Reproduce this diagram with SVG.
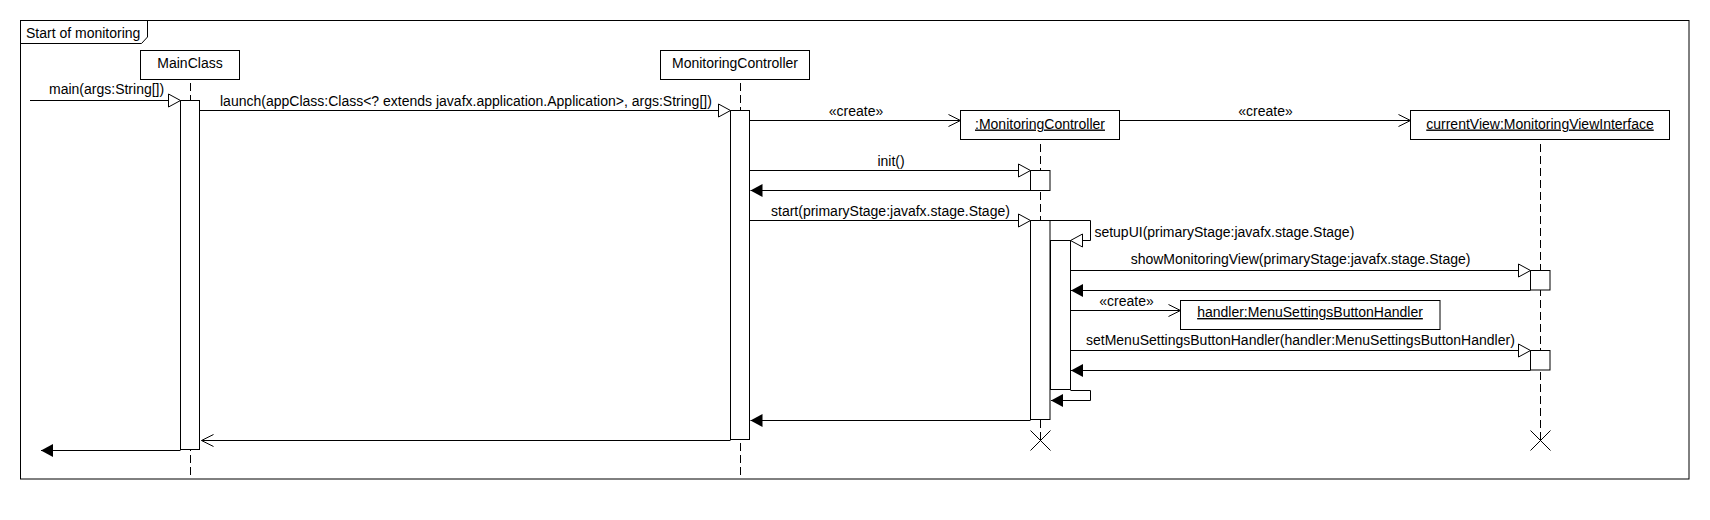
<svg xmlns="http://www.w3.org/2000/svg" width="1710" height="520" viewBox="0 0 1710 520">
<style>
text{font-family:"Liberation Sans",Arial,sans-serif;font-size:14px;fill:#000}
.c{text-anchor:middle}
.u{text-decoration:underline}
.box{fill:#fff;stroke:#000;stroke-width:1}
.act{fill:#fff;stroke:#000;stroke-width:1}
.life{stroke:#000;stroke-width:1;stroke-dasharray:8 4;fill:none}
.msg{stroke:#000;stroke-width:1;fill:none}
.sync{marker-end:url(#sync)}
.open{marker-end:url(#open)}
.ret{marker-end:url(#filled)}
</style>
<defs>
<marker id="sync" viewBox="0 0 13 14" refX="12.5" refY="7" markerWidth="13" markerHeight="14" markerUnits="userSpaceOnUse" orient="auto" overflow="visible">
<path d="M0.5,0.5 L12.5,7 L0.5,13.5 Z" fill="#fff" stroke="#000" stroke-width="1"/>
</marker>
<marker id="open" viewBox="0 0 13 14" refX="12" refY="7" markerWidth="13" markerHeight="14" markerUnits="userSpaceOnUse" orient="auto" overflow="visible">
<path d="M0,1 L12,7 L0,13" fill="none" stroke="#000" stroke-width="1"/>
</marker>
<marker id="filled" viewBox="0 0 13 14" refX="12" refY="7" markerWidth="13" markerHeight="14" markerUnits="userSpaceOnUse" orient="auto" overflow="visible">
<path d="M0,0.5 L12,7 L0,13.5 Z" fill="#000" stroke="none"/>
</marker>
</defs>
<rect width="1710" height="520" fill="#fff"/>
<g id="frame">
<rect x="20.5" y="20.5" width="1668.5" height="458.5" fill="none" stroke="#000"/>
<path d="M20.5,43.5 H141.5 L147.5,37 V20.5" fill="none" stroke="#000"/>
<text x="26" y="38">Start of monitoring</text>
</g>
<g id="lifelines">
<line class="life" x1="190.5" y1="83" x2="190.5" y2="479"/>
<line class="life" x1="740.5" y1="83" x2="740.5" y2="479"/>
<line class="life" x1="1040.5" y1="144" x2="1040.5" y2="440"/>
<line class="life" x1="1540.5" y1="144" x2="1540.5" y2="440"/>
</g>
<g id="MainClass">
<rect class="box" x="140.5" y="50.5" width="99" height="29"/>
<text class="c" x="190" y="68.3">MainClass</text>
<rect class="act" x="180.5" y="100.5" width="19" height="349"/>
</g>
<g id="MonitoringController">
<rect class="box" x="660.5" y="50.5" width="149" height="29"/>
<text class="c" x="735" y="68.3">MonitoringController</text>
<rect class="act" x="730.5" y="110.5" width="19" height="329"/>
</g>
<g id="MonitoringControllerInstance">
<rect class="box" x="960.5" y="110.5" width="159" height="29"/>
<text class="c u" x="1040" y="128.5">:MonitoringController</text>
<rect class="act" x="1030.5" y="170.5" width="19.5" height="20"/>
<rect class="act" x="1030.5" y="220.5" width="19.5" height="199"/>
<rect class="act" x="1050.5" y="240.5" width="20" height="149"/>
<path d="M1030.5,430.5 L1050.5,450.5 M1050.5,430.5 L1030.5,450.5" stroke="#000" fill="none"/>
</g>
<g id="currentView">
<rect class="box" x="1410.5" y="110.5" width="259" height="29"/>
<text class="c u" x="1540" y="128.5">currentView:MonitoringViewInterface</text>
<rect class="act" x="1530.5" y="270.5" width="19.5" height="19.5"/>
<rect class="act" x="1530.5" y="350.5" width="19.5" height="19.5"/>
<path d="M1530.5,430.5 L1550.5,450.5 M1550.5,430.5 L1530.5,450.5" stroke="#000" fill="none"/>
</g>
<g id="handler">
<rect class="box" x="1180.5" y="300.5" width="259.5" height="29"/>
<text class="c u" x="1310" y="317">handler:MenuSettingsButtonHandler</text>
</g>
<g id="connectors">
<line class="msg sync" x1="30" y1="100.5" x2="180.5" y2="100.5"/>
<text x="49" y="94">main(args:String[])</text>
<line class="msg sync" x1="199.5" y1="110.5" x2="730.5" y2="110.5"/>
<text x="220" y="105.5">launch(appClass:Class&lt;? extends javafx.application.Application&gt;, args:String[])</text>
<line class="msg open" x1="749.5" y1="120.5" x2="960.5" y2="120.5"/>
<text class="c" x="856" y="116">«create»</text>
<line class="msg open" x1="1119.5" y1="120.5" x2="1410.5" y2="120.5"/>
<text class="c" x="1265.5" y="116">«create»</text>
<line class="msg sync" x1="749.5" y1="170.5" x2="1030.5" y2="170.5"/>
<text class="c" x="891" y="165.5">init()</text>
<line class="msg ret" x1="1030.5" y1="190.5" x2="750.5" y2="190.5"/>
<line class="msg sync" x1="749.5" y1="220.5" x2="1030.5" y2="220.5"/>
<text x="771" y="215.5">start(primaryStage:javafx.stage.Stage)</text>
<polyline class="msg sync" points="1050,220.5 1090.5,220.5 1090.5,240.5 1070.5,240.5"/>
<text x="1094.4" y="237">setupUI(primaryStage:javafx.stage.Stage)</text>
<line class="msg sync" x1="1070.5" y1="270.5" x2="1530.5" y2="270.5"/>
<text x="1130.7" y="264">showMonitoringView(primaryStage:javafx.stage.Stage)</text>
<line class="msg ret" x1="1530.5" y1="290.5" x2="1071" y2="290.5"/>
<line class="msg open" x1="1070.5" y1="310.5" x2="1180.5" y2="310.5"/>
<text x="1099.3" y="306">«create»</text>
<line class="msg sync" x1="1070.5" y1="350.5" x2="1530.5" y2="350.5"/>
<text x="1086" y="344.5">setMenuSettingsButtonHandler(handler:MenuSettingsButtonHandler)</text>
<line class="msg ret" x1="1530.5" y1="370.5" x2="1071" y2="370.5"/>
<polyline class="msg ret" points="1070.5,390.5 1090.5,390.5 1090.5,400.5 1051,400.5"/>
<line class="msg ret" x1="1030.5" y1="420.5" x2="750.5" y2="420.5"/>
<line class="msg open" x1="730.5" y1="440.5" x2="201.5" y2="440.5"/>
<line class="msg ret" x1="180.5" y1="450.5" x2="41" y2="450.5"/>
</g>
</svg>
